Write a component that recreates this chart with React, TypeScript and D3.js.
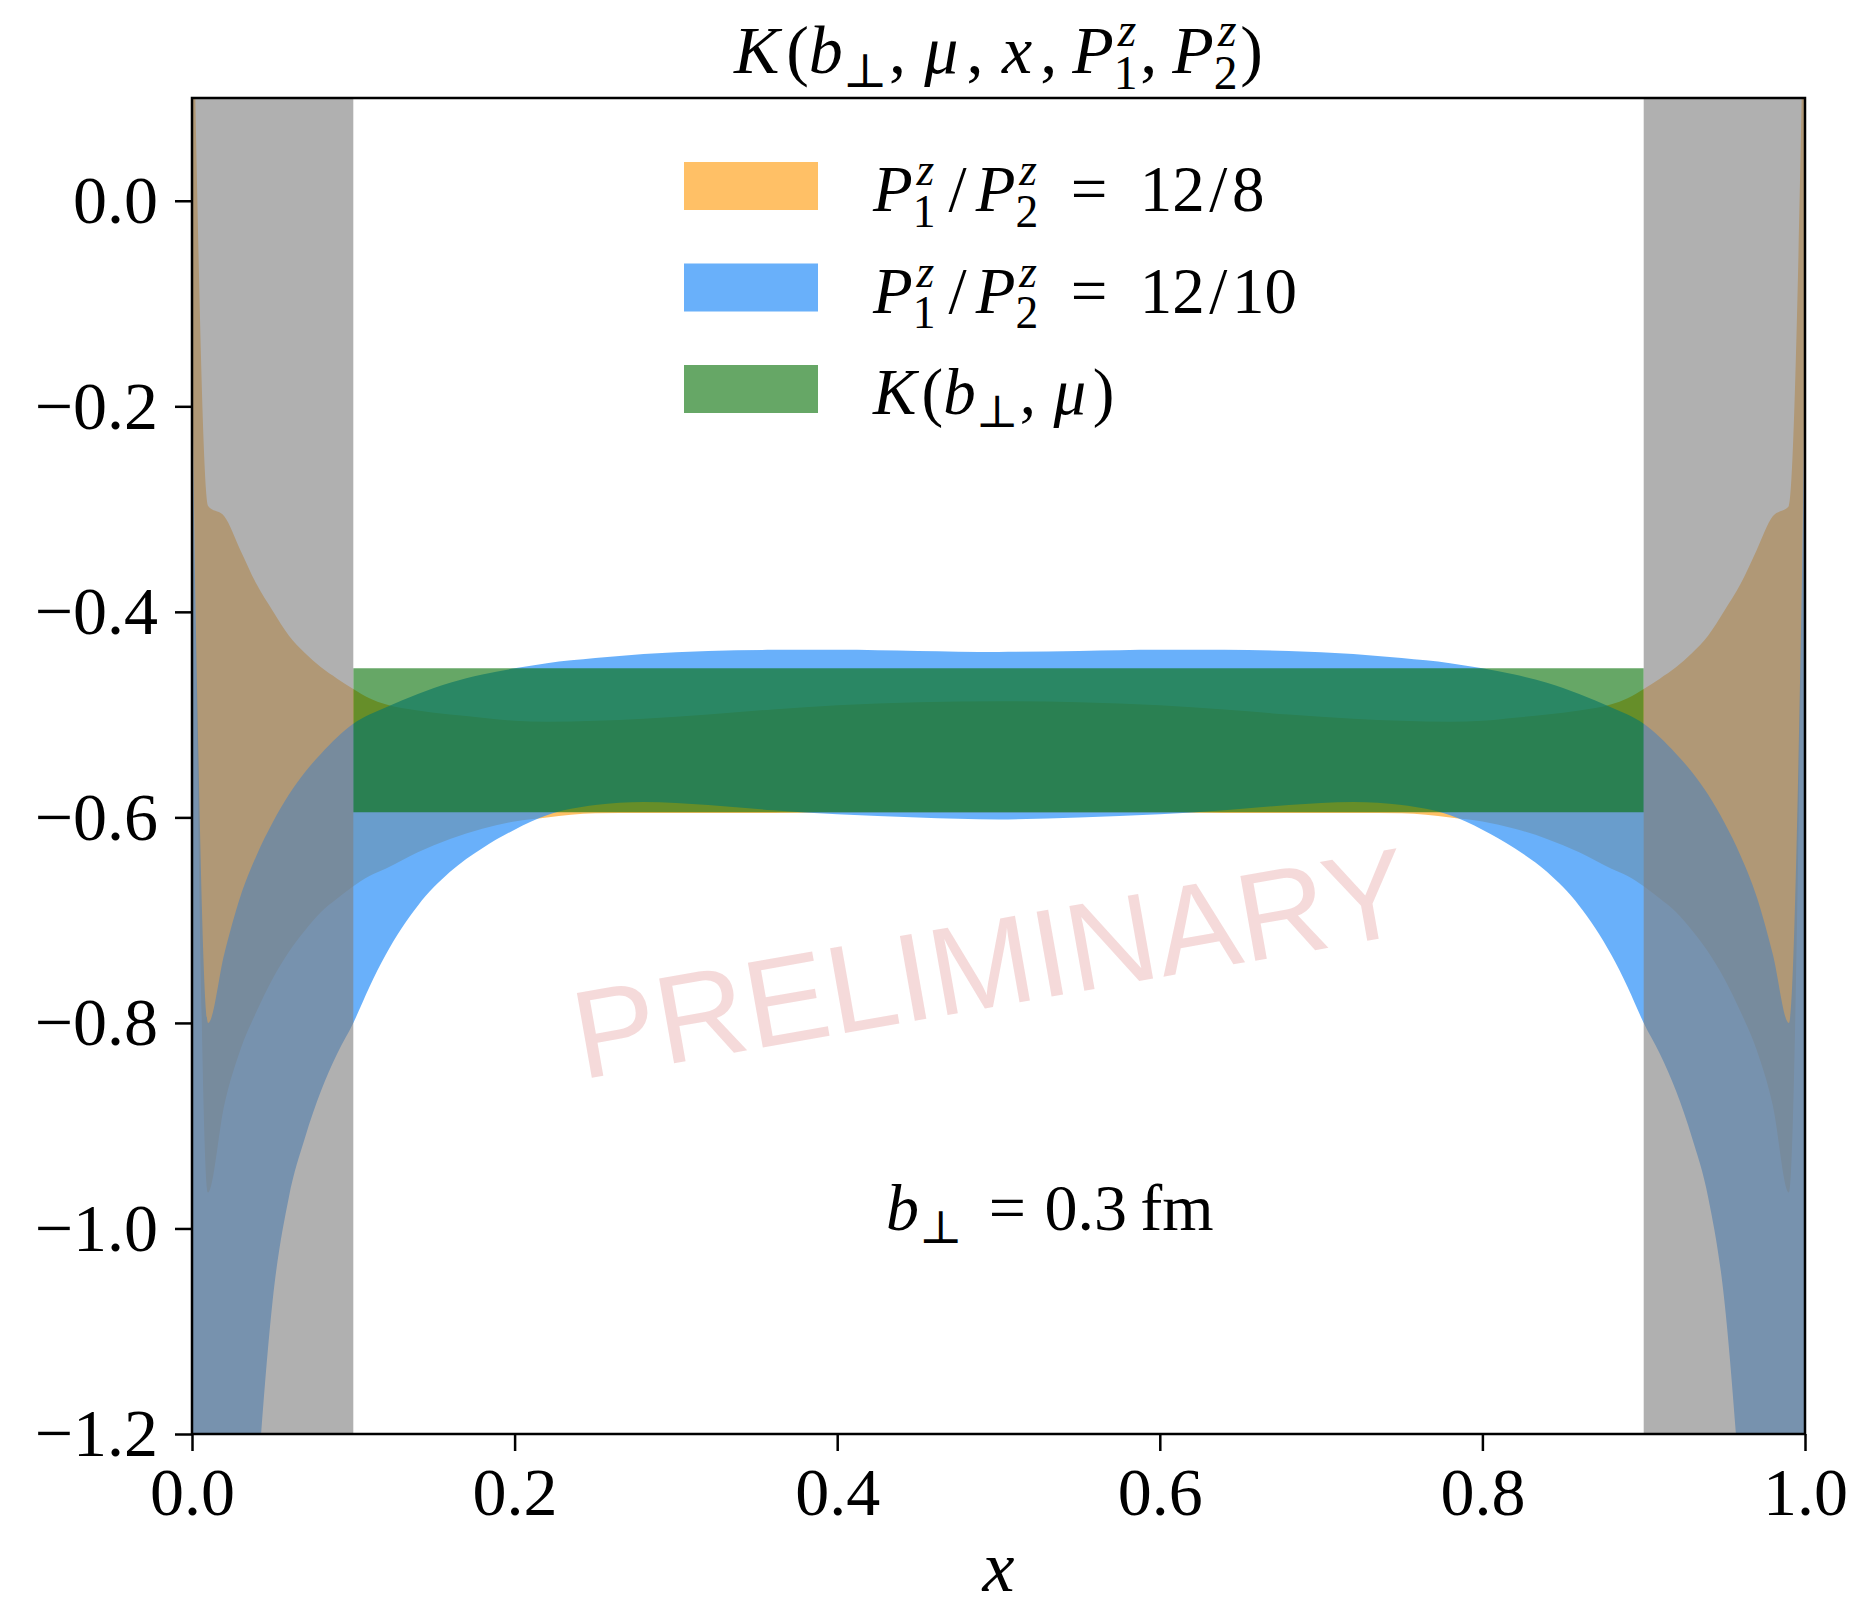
import React, { useEffect, useRef } from 'react';
import * as d3 from 'd3';

const xGrid = [0, 0.01, 0.02, 0.03, 0.04, 0.05, 0.06, 0.07, 0.08, 0.09, 0.1, 0.11, 0.12, 0.14, 0.16, 0.18, 0.2, 0.22, 0.25, 0.28, 0.32, 0.36, 0.4, 0.45, 0.5,
  0.55, 0.6, 0.64, 0.68, 0.72, 0.75, 0.78, 0.8, 0.82, 0.84, 0.86, 0.88, 0.89, 0.9, 0.91, 0.92, 0.93, 0.94, 0.95, 0.96, 0.97, 0.98, 0.99, 1.0];

// P1/P2 = 12/8 band
const orangeUpper = [0.27, -0.297, -0.307, -0.34, -0.373, -0.399, -0.423, -0.44, -0.454, -0.465, -0.475, -0.484, -0.49, -0.496, -0.5, -0.503, -0.506, -0.507, -0.506, -0.504, -0.5, -0.495, -0.491, -0.488, -0.487,
  -0.488, -0.491, -0.495, -0.5, -0.504, -0.506, -0.507, -0.506, -0.503, -0.5, -0.496, -0.49, -0.484, -0.475, -0.465, -0.454, -0.44, -0.423, -0.399, -0.373, -0.34, -0.307, -0.297, 0.27];
const orangeLower = [-0.14, -0.965, -0.88, -0.826, -0.789, -0.757, -0.731, -0.71, -0.692, -0.679, -0.667, -0.657, -0.65, -0.634, -0.621, -0.611, -0.604, -0.6, -0.596, -0.5958, -0.5958, -0.5958, -0.5956, -0.5955, -0.5955,
  -0.5955, -0.5956, -0.5958, -0.5958, -0.5958, -0.596, -0.6, -0.604, -0.611, -0.621, -0.634, -0.65, -0.657, -0.667, -0.679, -0.692, -0.71, -0.731, -0.757, -0.789, -0.826, -0.88, -0.965, -0.14];

// P1/P2 = 12/10 band
const blueUpper = [-0.2, -0.8, -0.733, -0.677, -0.637, -0.605, -0.578, -0.556, -0.538, -0.522, -0.509, -0.5, -0.493, -0.48, -0.469, -0.461, -0.455, -0.45, -0.445, -0.441, -0.438, -0.437, -0.437, -0.438, -0.439,
  -0.438, -0.437, -0.437, -0.438, -0.441, -0.445, -0.45, -0.455, -0.461, -0.469, -0.48, -0.493, -0.5, -0.509, -0.522, -0.538, -0.556, -0.578, -0.605, -0.637, -0.677, -0.733, -0.8, -0.2];
const blueLower = [-3.5, -2.6, -1.9, -1.5, -1.26, -1.07, -0.97, -0.912, -0.866, -0.83, -0.8, -0.765, -0.734, -0.686, -0.653, -0.63, -0.612, -0.598, -0.588, -0.585, -0.588, -0.593, -0.597, -0.6, -0.602,
  -0.6, -0.597, -0.593, -0.588, -0.585, -0.588, -0.598, -0.612, -0.63, -0.653, -0.686, -0.734, -0.765, -0.8, -0.83, -0.866, -0.912, -0.97, -1.07, -1.26, -1.5, -1.9, -2.6, -3.5];

// K(b, mu) band
const greenX = [0.1, 0.9];
const greenUpper = [-0.455, -0.455];
const greenLower = [-0.595, -0.595];

// excluded end regions
const grayRegions = [[0, 0.1], [0.9, 1.0]];

const xTicks = [0, 0.2, 0.4, 0.6, 0.8, 1.0];
const yTicks = [-1.2, -1.0, -0.8, -0.6, -0.4, -0.2, 0.0];

// g = extra gap before the piece, in em
type Seg = { t: string; it?: boolean; sup?: string; sub?: string; g?: number };

const titleSegs: Seg[] = [
  { t: 'K', it: true }, { t: '(', g: 0.1 }, { t: 'b', it: true, sub: '⊥' }, { t: ',', g: 0.02 }, { t: 'μ', it: true, g: 0.27 }, { t: ',', g: 0.12 },
  { t: 'x', it: true, g: 0.27 }, { t: ',', g: 0.12 }, { t: 'P', it: true, sup: 'z', sub: '1', g: 0.22 }, { t: ',', g: 0.04 },
  { t: 'P', it: true, sup: 'z', sub: '2', g: 0.22 }, { t: ')', g: 0.04 },
];
const legendLabels: Seg[][] = [
  [{ t: 'P', it: true, sup: 'z', sub: '1' }, { t: '/', g: 0.2 }, { t: 'P', it: true, sup: 'z', sub: '2', g: 0.14 }, { t: '=', g: 0.5 }, { t: '12', g: 0.5 }, { t: '/', g: 0.07 }, { t: '8', g: 0.07 }],
  [{ t: 'P', it: true, sup: 'z', sub: '1' }, { t: '/', g: 0.2 }, { t: 'P', it: true, sup: 'z', sub: '2', g: 0.14 }, { t: '=', g: 0.5 }, { t: '12', g: 0.5 }, { t: '/', g: 0.07 }, { t: '10', g: 0.07 }],
  [{ t: 'K', it: true }, { t: '(', g: 0.08 }, { t: 'b', it: true, sub: '⊥' }, { t: ',', g: 0.02 }, { t: 'μ', it: true, g: 0.27 }, { t: ')', g: 0.1 }],
];
const noteSegs: Seg[] = [{ t: 'b', it: true, sub: '⊥' }, { t: '=', g: 0.4 }, { t: '0.3', g: 0.28 }, { t: 'fm', g: 0.2 }];

const colors = { orange: '#ff9600', blue: '#2a8ef8', green: '#006c00', gray: '#808080' };
const alphas = { orange: 0.6, blue: 0.7, green: 0.6, gray: 0.62 };
const legendKeys = ['orange', 'blue', 'green'];

const W = 1858, H = 1608;
const margin = { top: 98, right: 53, bottom: 174, left: 192 };
const SERIF = "'Liberation Serif', 'DejaVu Serif', serif";

function drawMath(text: any, segs: Seg[], fs: number) {
  const sfs = fs * 0.7;
  let pending = 0;
  segs.forEach(sg => {
    const base = text.append('tspan').attr('font-size', fs).attr('font-style', sg.it ? 'italic' : 'normal').text(sg.t);
    if (sg.g) base.attr('dx', sg.g * fs);
    if (pending) { base.attr('dy', pending); pending = 0; }
    if (sg.sup && sg.sub) {
      text.append('tspan').attr('font-size', sfs).attr('font-style', 'italic')
        .attr('dx', 0.06 * fs).attr('dy', -0.4 * fs).text(sg.sup);
      text.append('tspan').attr('font-size', sfs).attr('font-style', 'normal')
        .attr('dx', -(0.389 * sfs + 0.06 * fs)).attr('dy', 0.64 * fs).text(sg.sub);
      pending = -0.24 * fs;
    } else if (sg.sub) {
      text.append('tspan').attr('font-size', sfs).attr('font-style', 'normal')
        .attr('dy', 0.2 * fs).text(sg.sub);
      pending = -0.2 * fs;
    }
  });
}

export default function App() {
  const ref = useRef<SVGSVGElement>(null);

  useEffect(() => {
    const svg = d3.select(ref.current);
    svg.selectAll('*').remove();
    const width = W - margin.left - margin.right;
    const height = H - margin.top - margin.bottom;

    const x = d3.scaleLinear().domain([0, 1]).range([0, width]);
    const y = d3.scaleLinear().domain([-1.2, 0.1]).range([height, 0]);

    svg.append('defs').append('clipPath').attr('id', 'plotclip')
      .append('rect').attr('width', width).attr('height', height);

    const g = svg.append('g').attr('transform', 'translate(' + margin.left + ',' + margin.top + ')');
    const plot = g.append('g').attr('clip-path', 'url(#plotclip)');

    const band = (xs: number[], lo: number[], hi: number[]) =>
      d3.area<number>()
        .x(i => x(xs[i]))
        .y0(i => y(lo[i]))
        .y1(i => y(hi[i]))
        .curve(d3.curveMonotoneX)(d3.range(xs.length));

    plot.append('path').attr('d', band(xGrid, orangeLower, orangeUpper))
      .attr('fill', colors.orange).attr('fill-opacity', alphas.orange);
    plot.append('path').attr('d', band(xGrid, blueLower, blueUpper))
      .attr('fill', colors.blue).attr('fill-opacity', alphas.blue);
    plot.append('path').attr('d', d3.area<number>().x(i => x(greenX[i])).y0(i => y(greenLower[i])).y1(i => y(greenUpper[i]))(d3.range(greenX.length)))
      .attr('fill', colors.green).attr('fill-opacity', alphas.green);

    plot.selectAll('rect.excl').data(grayRegions).enter().append('rect')
      .attr('class', 'excl')
      .attr('x', d => x(d[0])).attr('width', d => x(d[1]) - x(d[0]))
      .attr('y', 0).attr('height', height)
      .attr('fill', colors.gray).attr('fill-opacity', alphas.gray);

    // watermark
    g.append('text')
      .attr('transform', 'translate(' + (998 - margin.left) + ',' + (1006 - margin.top) + ') rotate(-10)')
      .attr('text-anchor', 'middle')
      .attr('font-family', "'Liberation Sans', Arial, sans-serif")
      .attr('font-size', 125)
      .attr('fill', '#c83232').attr('fill-opacity', 0.18)
      .text('PRELIMINARY');

    // axes
    const fmt = d3.format('.1f');
    const xAxis = g.append('g').attr('transform', 'translate(0,' + height + ')')
      .call(d3.axisBottom(x).tickValues(xTicks).tickFormat(d => fmt(d as number)).tickSize(17).tickPadding(16));
    const yAxis = g.append('g')
      .call(d3.axisLeft(y).tickValues(yTicks).tickFormat(d => fmt(d as number)).tickSize(17).tickPadding(17));
    [xAxis, yAxis].forEach(a => {
      a.select('.domain').remove();
      a.attr('font-family', SERIF).attr('font-size', 68);
      a.selectAll('line').attr('stroke', '#000').attr('stroke-width', 2.5);
      a.selectAll('text').attr('fill', '#000');
    });

    g.append('rect').attr('width', width).attr('height', height)
      .attr('fill', 'none').attr('stroke', '#000').attr('stroke-width', 2.5);

    // title
    const title = svg.append('text').attr('x', margin.left + width / 2).attr('y', 73)
      .attr('text-anchor', 'middle').attr('font-family', SERIF).attr('fill', '#000');
    drawMath(title, titleSegs, 68);

    // x label
    svg.append('text').attr('x', margin.left + width / 2).attr('y', 1591)
      .attr('text-anchor', 'middle').attr('font-family', SERIF).attr('font-style', 'italic')
      .attr('font-size', 72).text('x');

    // legend
    const legend = svg.append('g').attr('transform', 'translate(684,162)');
    legendLabels.forEach((segs, i) => {
      const row = legend.append('g').attr('transform', 'translate(0,' + i * 101.5 + ')');
      const key = legendKeys[i] as keyof typeof colors;
      row.append('rect').attr('width', 134).attr('height', 48)
        .attr('fill', colors[key]).attr('fill-opacity', alphas[key as keyof typeof alphas]);
      const t = row.append('text').attr('x', 189).attr('y', 49).attr('font-family', SERIF).attr('fill', '#000');
      drawMath(t, segs, 65);
    });

    // annotation
    const note = svg.append('text').attr('x', 886).attr('y', 1230).attr('font-family', SERIF).attr('fill', '#000');
    drawMath(note, noteSegs, 66);
  }, []);

  return <svg ref={ref} width={W} height={H} style={{ position: 'absolute', left: 0, top: 0, background: '#fff' }} />;
}
